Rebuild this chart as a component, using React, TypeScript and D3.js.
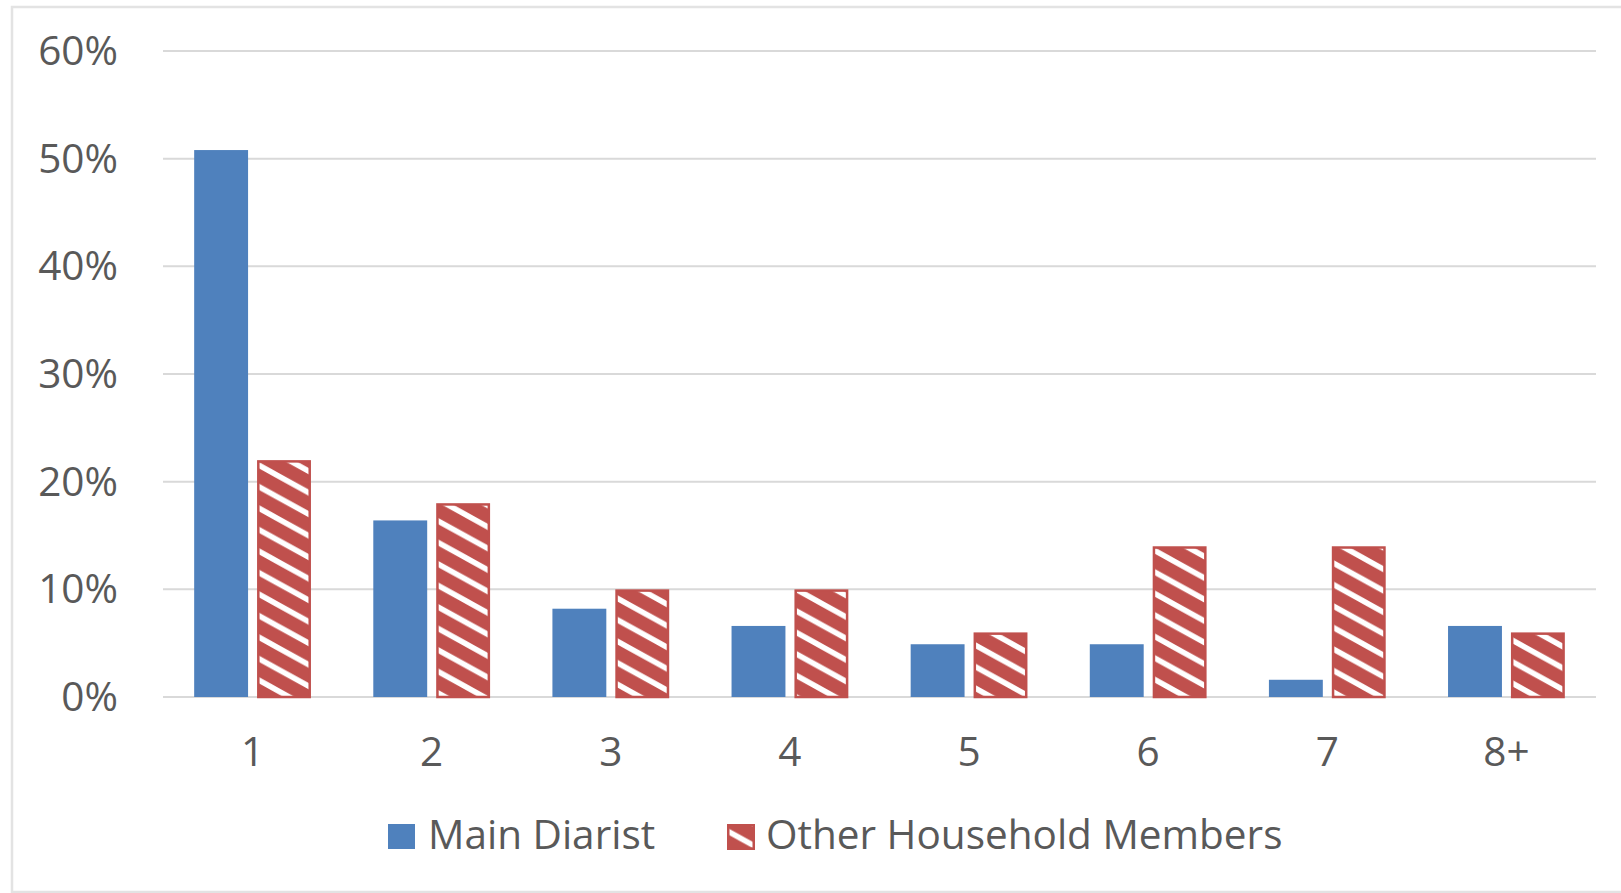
import React from "react";
import * as d3 from "d3";

const categories = ["1", "2", "3", "4", "5", "6", "7", "8+"];
const seriesNames = ["Main Diarist", "Other Household Members"];
const mainDiarist = [0.508, 0.164, 0.082, 0.066, 0.049, 0.049, 0.016, 0.066];
const otherMembers = [0.22, 0.18, 0.1, 0.1, 0.06, 0.14, 0.14, 0.06];
const yTicks = [0, 0.1, 0.2, 0.3, 0.4, 0.5, 0.6];

const W = 1621;
const H = 893;
const BLUE = "#4F81BD";
const RED = "#C0504D";
const TEXT = "#595959";
const GRID = "#d9d9d9";
const FONT = "'Open Sans', sans-serif";
const FS = 40.5;

export default function App() {
  const x0 = d3
    .scaleBand<string>()
    .domain(categories)
    .range([163, 1596])
    .paddingInner(0.348)
    .paddingOuter(0.174);
  const x1 = d3
    .scaleBand<string>()
    .domain(seriesNames)
    .range([0, x0.bandwidth()])
    .paddingInner(0.143)
    .paddingOuter(0);
  const y = d3.scaleLinear().domain([0, 0.6]).range([697, 51]);
  const fmt = d3.format(".0%");

  const pw = 39;
  const ph = 21.5;
  const stripe = (c: number) => `M${-pw},${-ph + c} L${2 * pw},${2 * ph + c}`;

  return (
    <svg
      width={W}
      height={H}
      style={{ position: "absolute", left: 0, top: 0, background: "#fff" }}
      fontFamily={FONT}
    >
      <defs>
        <pattern id="hatch" patternUnits="userSpaceOnUse" width={pw} height={ph}>
          <rect width={pw} height={ph} fill={RED} />
          <path
            d={[stripe(-ph), stripe(0), stripe(ph)].join(" ")}
            stroke="#fff"
            strokeWidth={5.5}
            fill="none"
          />
        </pattern>
      </defs>
      <rect x={12} y={7} width={W} height={885} fill="#fff" stroke="#e3e3e3" strokeWidth={2.5} />
      {yTicks.map((t) => (
        <g key={t}>
          <line x1={163} x2={1596} y1={y(t)} y2={y(t)} stroke={GRID} strokeWidth={2} />
          <text
            x={118}
            y={y(t) + 14}
            textAnchor="end"
            fontSize={FS}
            fill={TEXT}
          >
            {fmt(t)}
          </text>
        </g>
      ))}
      {categories.map((c, i) => {
        const gx = x0(c)!;
        const bx = gx + x1(seriesNames[0])!;
        const rx = gx + x1(seriesNames[1])!;
        const bw = x1.bandwidth();
        return (
          <g key={c}>
            <rect x={bx} y={y(mainDiarist[i])} width={bw} height={y(0) - y(mainDiarist[i])} fill={BLUE} />
            <rect
              x={rx + 1.25}
              y={y(otherMembers[i]) + 1.25}
              width={bw - 2.5}
              height={y(0) - y(otherMembers[i]) - 1.25}
              fill="url(#hatch)"
              stroke={RED}
              strokeWidth={2.5}
            />
            <text
              x={gx + x0.bandwidth() / 2}
              y={766}
              textAnchor="middle"
              fontSize={FS}
              fill={TEXT}
            >
              {c}
            </text>
          </g>
        );
      })}
      <g>
        <rect x={388} y={824} width={27} height={25} fill={BLUE} />
        <text x={428} y={849} fontSize={FS} fill={TEXT}>
          {seriesNames[0]}
        </text>
        <rect x={728.25} y={825.25} width={25.5} height={23.5} fill="url(#hatch)" stroke={RED} strokeWidth={2.5} />
        <text x={766} y={849} fontSize={FS} fill={TEXT}>
          {seriesNames[1]}
        </text>
      </g>
    </svg>
  );
}
